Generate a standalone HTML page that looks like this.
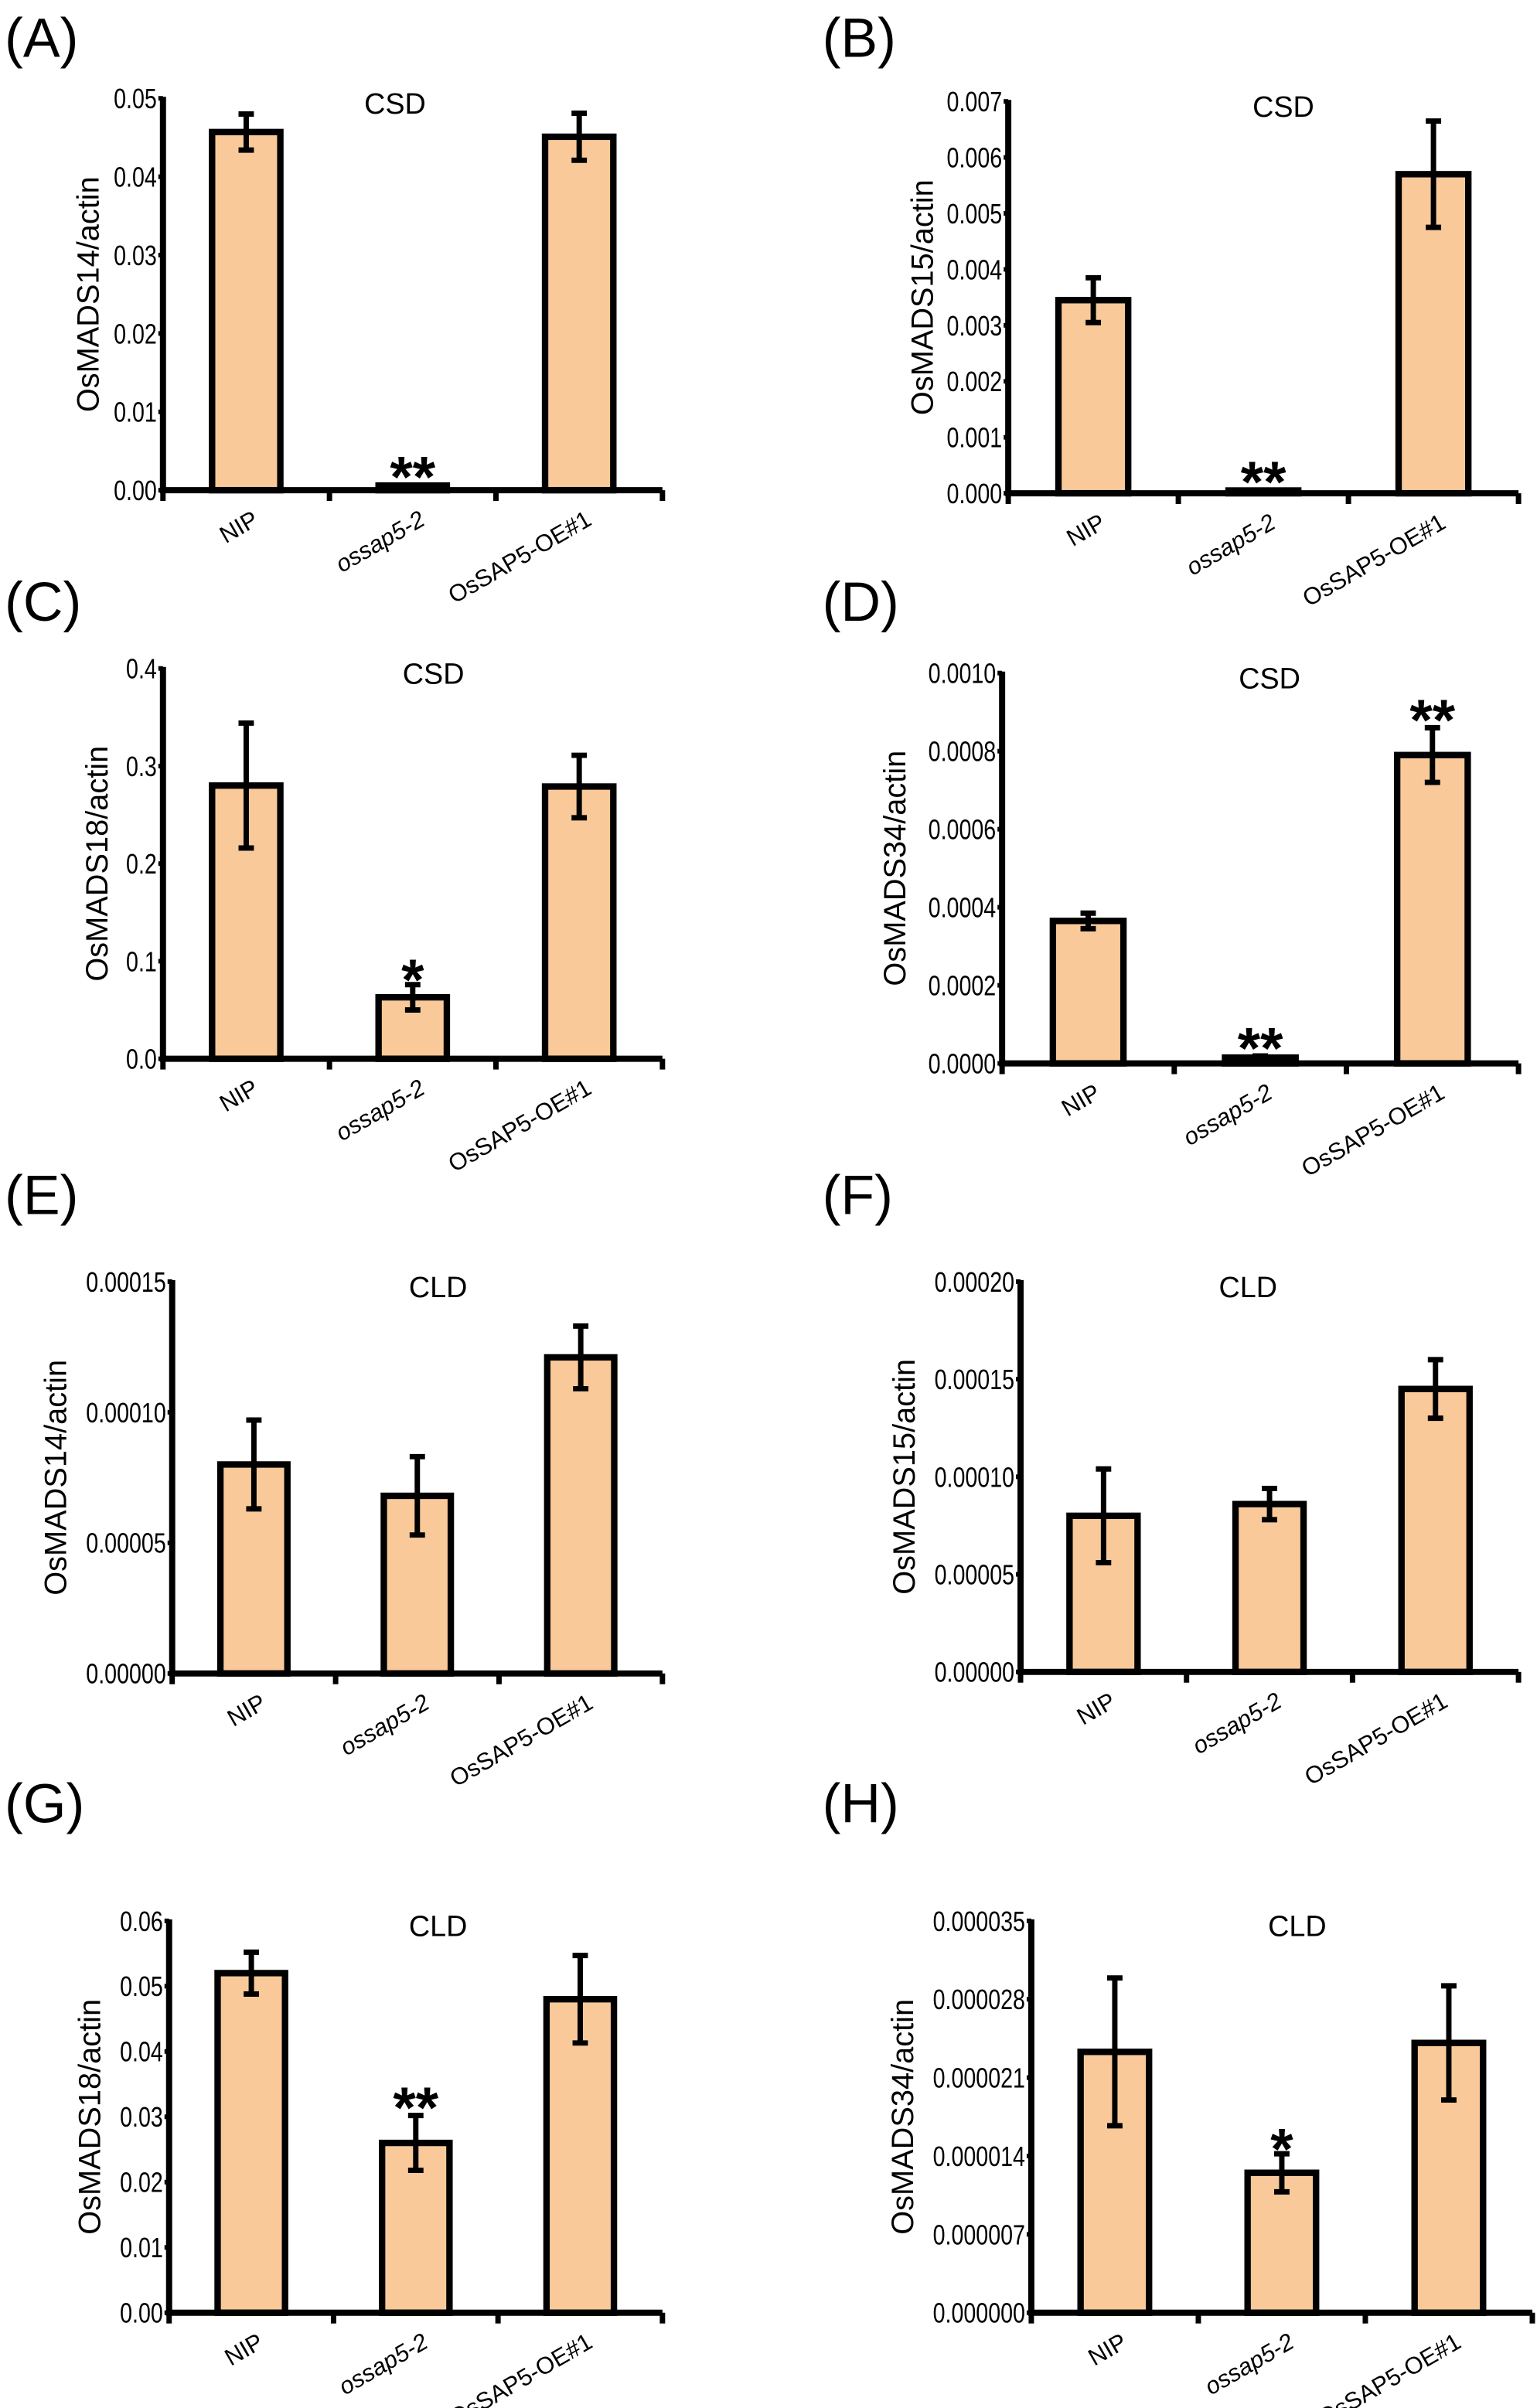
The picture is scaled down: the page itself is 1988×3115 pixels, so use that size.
<!DOCTYPE html>
<html><head><meta charset="utf-8">
<style>
html,body{margin:0;padding:0;background:#fff;}
svg{display:block;}
text{font-family:"Liberation Sans",sans-serif;fill:#000;}
.tick{font-family:"Liberation Sans",sans-serif;font-size:18px;}
</style></head>
<body>
<svg id="fig" width="1988" height="3115" viewBox="0 0 1000 1567" xmlns="http://www.w3.org/2000/svg"></svg>
<script>
const categories = ["NIP","ossap5-2","OsSAP5-OE#1"];
const valsA = [0.0457, 0.0006, 0.0451];
const errA  = [0.0023, 0.0001, 0.0030];
const sigA  = ["", "**", ""];
const ticksA = [0,0.01,0.02,0.03,0.04,0.05];
const valsB = [0.00345, 0.00005, 0.0057];
const errB  = [0.0004, 0.00001, 0.00095];
const sigB  = ["", "**", ""];
const ticksB = [0,0.001,0.002,0.003,0.004,0.005,0.006,0.007];
const valsC = [0.280, 0.063, 0.279];
const errC  = [0.064, 0.013, 0.032];
const sigC  = ["", "*", ""];
const ticksC = [0,0.1,0.2,0.3,0.4];
const valsD = [0.000365, 0.000015, 0.00079];
const errD  = [0.00002, 0.000004, 0.00007];
const sigD  = ["", "**", "**"];
const ticksD = [0,0.0002,0.0004,0.0006,0.0008,0.0010];
const valsE = [0.000080, 0.000068, 0.000121];
const errE  = [0.000017, 0.000015, 0.000012];
const sigE  = ["", "", ""];
const ticksE = [0,0.00005,0.00010,0.00015];
const valsF = [0.000080, 0.000086, 0.000145];
const errF  = [0.000024, 0.000008, 0.000015];
const sigF  = ["", "", ""];
const ticksF = [0,0.00005,0.00010,0.00015,0.00020];
const valsG = [0.052, 0.026, 0.048];
const errG  = [0.0032, 0.0042, 0.0067];
const sigG  = ["", "**", ""];
const ticksG = [0,0.01,0.02,0.03,0.04,0.05,0.06];
const valsH = [0.0000233, 0.0000125, 0.0000241];
const errH  = [0.0000066, 0.0000017, 0.0000051];
const sigH  = ["", "*", ""];
const ticksH = [0,0.000007,0.000014,0.000021,0.000028,0.000035];

const NS = "http://www.w3.org/2000/svg";
const svg = document.getElementById("fig");
function mk(tag, attrs, parent){
  const e = document.createElementNS(NS, tag);
  for (const k in attrs) e.setAttribute(k, attrs[k]);
  (parent||svg).appendChild(e);
  return e;
}
function panel(o){
  const g = mk("g", {});
  
  
  const ymax = o.ticks[o.ticks.length-1];
  const y = v => o.base - (v/ymax)*(o.base-o.top);
  const gw = (o.xR-o.x0)/3;
  const bw = gw*0.41;
  const cx = i => o.x0 + gw*(i+0.5);
  const L = mk("text", {x:o.lx, y:o.ly, "font-size":36}, g);
  L.textContent = "(" + o.id + ")";
  
  
  const T = mk("text", {x:o.tx, y:o.top+10, "font-size":19, "text-anchor":"middle"}, g);
  T.textContent = o.title;
  
  
  const yl = mk("text", {x:0, y:0, "font-size":20, "text-anchor":"middle", transform:`translate(${o.ylx},${(o.top+o.base)/2}) rotate(-90)`}, g);
  yl.textContent = o.ylabel;
  
  
  o.vals.forEach((v,i)=>{
    const r = mk("rect", {x:cx(i)-bw/2, y:y(v), width:bw, height:o.base-y(v), fill:"#f9c99a", stroke:"#000", "stroke-width":4.2}, g);
    
    
    const e = o.errs[i];
    if (e > 0 && (y(v-e)-y(v+e)) > 2){
      const p = mk("path", {d:`M${cx(i)},${y(v+e)}V${y(v-e)}M${cx(i)-5},${y(v+e)}H${cx(i)+5}M${cx(i)-5},${y(v-e)}H${cx(i)+5}`, stroke:"#000", "stroke-width":3.5, fill:"none"}, g);
      
      
    }
    if (o.sig[i]){
      const s = mk("text", {x:cx(i), y:y(v+e)+ (o.sig[i]==="*"?10:8), "font-size":38, "font-weight":"bold", "text-anchor":"middle"}, g);
      s.textContent = o.sig[i];
      
      
    }
    const c = mk("text", {x:0, y:0, "font-size":15.5, "text-anchor":"end", "font-style": i===1?"italic":"normal", transform:`translate(${cx(i)+9},${o.base+22}) rotate(-30)`}, g);
    c.textContent = categories[i];
    
    
  });
  const ax = mk("path", {d:`M${o.x0},${o.top-1}V${o.base}H${o.xR}`, stroke:"#000", "stroke-width":4, fill:"none"}, g);
  
  
  for (let k=0;k<=3;k++){
    const t = mk("line", {x1:o.x0+gw*k, x2:o.x0+gw*k, y1:o.base, y2:o.base+7, stroke:"#000", "stroke-width":3.5}, g);
    
    
  }
  o.ticks.forEach(tv=>{
    const t = mk("line", {x1:o.x0-3, x2:o.x0, y1:y(tv), y2:y(tv), stroke:"#000", "stroke-width":3}, g);
    
    
    const tl = mk("text", {x:0, y:0, "text-anchor":"end", class:"tick", transform:`translate(${o.x0-4},${y(tv)+6.5}) scale(0.8,1)`}, g);
    tl.textContent = tv.toFixed(o.dec);
    
    
  });
}
panel({id:"A",title:"CSD",ylabel:"OsMADS14/actin",vals:valsA,errs:errA,sig:sigA,ticks:ticksA,dec:2,x0:106,top:64,base:319,xR:431,lx:3,ly:37,tx:257,ylx:64});
panel({id:"B",title:"CSD",ylabel:"OsMADS15/actin",vals:valsB,errs:errB,sig:sigB,ticks:ticksB,dec:3,x0:656,top:66,base:321,xR:988,lx:535,ly:37,tx:835,ylx:607});
panel({id:"C",title:"CSD",ylabel:"OsMADS18/actin",vals:valsC,errs:errC,sig:sigC,ticks:ticksC,dec:1,x0:106,top:435,base:689,xR:431,lx:3,ly:404,tx:282,ylx:70});
panel({id:"D",title:"CSD",ylabel:"OsMADS34/actin",vals:valsD,errs:errD,sig:sigD,ticks:ticksD,dec:4,x0:652,top:438,base:692,xR:988,lx:535,ly:404,tx:826,ylx:589});
panel({id:"E",title:"CLD",ylabel:"OsMADS14/actin",vals:valsE,errs:errE,sig:sigE,ticks:ticksE,dec:5,x0:112,top:834,base:1089,xR:431,lx:3,ly:790,tx:285,ylx:43});
panel({id:"F",title:"CLD",ylabel:"OsMADS15/actin",vals:valsF,errs:errF,sig:sigF,ticks:ticksF,dec:5,x0:664,top:834,base:1088,xR:988,lx:535,ly:790,tx:812,ylx:595});
panel({id:"G",title:"CLD",ylabel:"OsMADS18/actin",vals:valsG,errs:errG,sig:sigG,ticks:ticksG,dec:2,x0:110,top:1250,base:1505,xR:431,lx:3,ly:1186,tx:285,ylx:65});
panel({id:"H",title:"CLD",ylabel:"OsMADS34/actin",vals:valsH,errs:errH,sig:sigH,ticks:ticksH,dec:6,x0:671,top:1250,base:1505,xR:997,lx:535,ly:1186,tx:844,ylx:594});
</script>
</body></html>
